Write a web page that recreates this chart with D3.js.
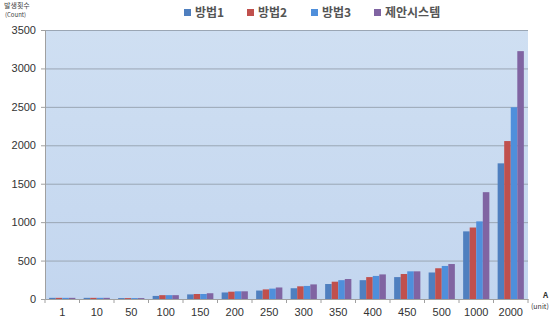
<!DOCTYPE html>
<html>
<head>
<meta charset="utf-8">
<script src="https://cdn.jsdelivr.net/npm/d3@7.9.0/dist/d3.min.js"></script>
<style>
  body { margin: 0; background: #fff; }
  svg { display: block; font-family: "Noto Sans CJK KR", "Noto Sans", sans-serif; }
</style>
</head>
<body>
<svg id="chart" width="551" height="327"></svg>
<script>
// ========== Data ==========
const categories = ['1', '10', '50', '100', '150', '200', '250', '300', '350', '400', '450', '500', '1000', '2000'];
const seriesNames = ['방법1', '방법2', '방법3', '제안시스템'];
const method1 = [15, 15, 12, 40, 60, 85, 110, 140, 195, 245, 285, 345, 880, 1765];
const method2 = [15, 15, 12, 50, 65, 95, 125, 165, 225, 285, 325, 400, 930, 2055];
const method3 = [15, 15, 12, 50, 65, 100, 135, 170, 245, 300, 360, 430, 1010, 2495];
const proposed = [15, 15, 12, 50, 75, 100, 150, 190, 260, 320, 360, 455, 1390, 3225];
const yTicks = [0, 500, 1000, 1500, 2000, 2500, 3000, 3500];
const colors = ['#4f7fbf', '#c0504d', '#4f8fdb', '#8064a2'];

const seriesValues = [method1, method2, method3, proposed];

// ========== Layout ==========
const svg = d3.select('#chart');
const margin = { left: 45, right: 23, top: 30, bottom: 28 };
const width = 551, height = 327;

const x = d3.scaleBand()
  .domain(categories)
  .range([margin.left, width - margin.right])
  .paddingInner(0.24)
  .paddingOuter(0.12);

const xs = d3.scaleBand()
  .domain(seriesNames)
  .range([0, x.bandwidth()])
  .padding(0);

const y = d3.scaleLinear()
  .domain([0, 3500])
  .range([height - margin.bottom, margin.top]);

// === Plot background gradient ===
const defs = svg.append('defs');
const grad = defs.append('linearGradient')
  .attr('id', 'bg').attr('x1', 0).attr('y1', 0).attr('x2', 0).attr('y2', 1);
grad.append('stop').attr('offset', '0%').attr('stop-color', '#cfdff2');
grad.append('stop').attr('offset', '100%').attr('stop-color', '#c3d6ef');

svg.append('rect')
  .attr('x', margin.left)
  .attr('y', y(3500))
  .attr('width', width - margin.right - margin.left)
  .attr('height', y(0) - y(3500))
  .attr('fill', 'url(#bg)');

// === Gridlines ===
svg.append('g')
  .selectAll('line')
  .data(yTicks.filter(d => d > 0))
  .join('line')
  .attr('x1', margin.left)
  .attr('x2', width - margin.right)
  .attr('y1', d => y(d) + 0.5)
  .attr('y2', d => y(d) + 0.5)
  .attr('stroke', '#9aa6b4')
  .attr('stroke-width', 1);

// === Y axis ===
const yAxis = svg.append('g')
  .attr('transform', `translate(${margin.left},0)`)
  .call(d3.axisLeft(y).tickValues(yTicks).tickFormat(d3.format('d')).tickSize(4).tickPadding(5));
yAxis.select('.domain').attr('stroke', '#a0a0a0');
yAxis.selectAll('.tick line').attr('stroke', '#a0a0a0');
yAxis.selectAll('text').attr('font-size', 11).attr('fill', '#333');

// === X axis ===
const xAxis = svg.append('g')
  .attr('transform', `translate(0,${y(0)})`)
  .call(d3.axisBottom(x).tickSize(0).tickPadding(9));
xAxis.select('.domain').attr('stroke', '#a0a0a0');
xAxis.selectAll('text').attr('font-size', 11).attr('fill', '#333');

// category separators
const step = x.step();
svg.append('g')
  .selectAll('line')
  .data(d3.range(categories.length + 1))
  .join('line')
  .attr('x1', i => margin.left + i * step)
  .attr('x2', i => margin.left + i * step)
  .attr('y1', y(0))
  .attr('y2', y(0) + 4)
  .attr('stroke', '#a0a0a0');

// === Bars ===
categories.forEach((cat, ci) => {
  seriesValues.forEach((vals, si) => {
    svg.append('rect')
      .attr('x', x(cat) + xs(seriesNames[si]))
      .attr('y', y(vals[ci]))
      .attr('width', xs.bandwidth())
      .attr('height', y(0) - y(vals[ci]))
      .attr('fill', colors[si]);
  });
});

// === Legend ===
const legendX = [184, 247, 311, 374];
const legend = svg.append('g');
seriesNames.forEach((name, i) => {
  legend.append('rect')
    .attr('x', legendX[i]).attr('y', 9)
    .attr('width', 7).attr('height', 7)
    .attr('fill', colors[i]);
  legend.append('text')
    .attr('x', legendX[i] + 11).attr('y', 17)
    .attr('font-size', 12)
    .attr('font-weight', 'bold')
    .attr('fill', '#555')
    .text(name);
});

// === Axis titles ===
svg.append('text')
  .attr('x', 4).attr('y', 8)
  .attr('font-size', 7).attr('fill', '#444')
  .text('발생횟수');
svg.append('text')
  .attr('x', 5).attr('y', 17)
  .attr('font-size', 6).attr('fill', '#444')
  .text('(Count)');

svg.append('text')
  .attr('x', 543).attr('y', 298)
  .attr('font-size', 8).attr('font-weight', 'bold').attr('fill', '#333')
  .text('A');
svg.append('text')
  .attr('x', 531).attr('y', 309)
  .attr('font-size', 7).attr('fill', '#333')
  .text('(unit)');
</script>
</body>
</html>
